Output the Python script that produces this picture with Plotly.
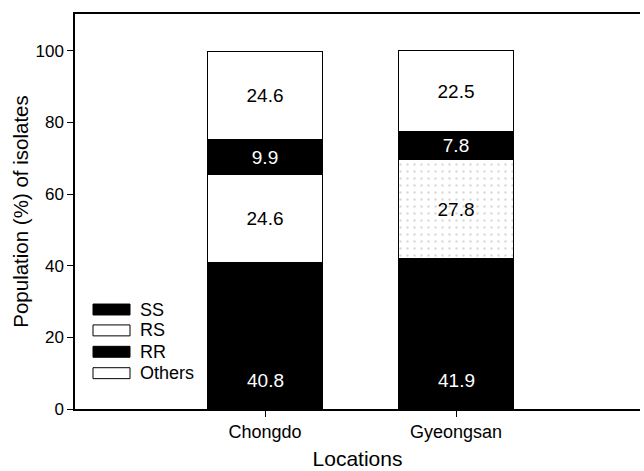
import plotly.graph_objects as go

# Genotype composition (%) of isolates per location
locations = ["Chongdo", "Gyeongsan"]
ss = [40.8, 41.9]
rs = [24.6, 27.8]
rr = [9.9, 7.8]
others = [24.6, 22.5]
y_ticks = [0, 20, 40, 60, 80, 100]

FONT = "Liberation Sans, Arial, Helvetica, sans-serif"
W, H = 644, 471
L, T, R, B = 75, 14, 640, 411  # plot area in pixels
LABEL_SIZE = 19


def px_x(p):
    return (p - L) / (R - L)


def px_y(p):
    return (B - p) / (B - T)


fig = go.Figure()

# SS segment: its value is written near the base of the bar (see annotations below)
fig.add_trace(go.Bar(
    x=locations, y=ss, name="SS",
    marker=dict(color="black", line=dict(color="black", width=1)),
))
fig.add_trace(go.Bar(
    x=locations, y=rs, name="RS",
    marker=dict(color="white", line=dict(color="black", width=1),
                pattern=dict(shape=["", "."], fgcolor="#b4b4b4", bgcolor="white",
                             size=7, solidity=0.1, fillmode="overlay")),
    text=[f"{v:.1f}" for v in rs], textposition="inside",
    insidetextanchor="middle",
    textfont=dict(color="black", size=LABEL_SIZE, family=FONT),
))
fig.add_trace(go.Bar(
    x=locations, y=rr, name="RR",
    marker=dict(color="black", line=dict(color="black", width=1)),
    text=[f"{v:.1f}" for v in rr], textposition="inside",
    insidetextanchor="middle",
    textfont=dict(color="white", size=LABEL_SIZE, family=FONT),
))
fig.add_trace(go.Bar(
    x=locations, y=others, name="Others",
    marker=dict(color="white", line=dict(color="black", width=1)),
    text=[f"{v:.1f}" for v in others], textposition="inside",
    insidetextanchor="middle",
    textfont=dict(color="black", size=LABEL_SIZE, family=FONT),
))

annotations = []
for loc, v in zip(locations, ss):
    annotations.append(dict(x=loc, y=0, xref="x", yref="y", text=f"{v:.1f}",
                            showarrow=False, yanchor="middle", yshift=29,
                            font=dict(size=LABEL_SIZE, family=FONT, color="white")))

# Legend drawn as wide swatches inside the lower-left corner of the plot
legend_items = [("SS", "black", 311), ("RS", "white", 332),
                ("RR", "black", 353.5), ("Others", "white", 375)]
shapes = []
for label, color, cy in legend_items:
    shapes.append(dict(type="rect", xref="paper", yref="paper",
                       x0=px_x(93), x1=px_x(130), y0=px_y(cy + 5.5), y1=px_y(cy - 5.5),
                       fillcolor=color, line=dict(color="black", width=1)))
    annotations.append(dict(x=px_x(138), y=px_y(cy), xref="paper", yref="paper",
                            text=label, showarrow=False, xanchor="left", yanchor="middle",
                            font=dict(size=18, family=FONT, color="black")))

fig.update_layout(
    width=W, height=H,
    margin=dict(l=L, r=W - R, t=T, b=H - B),
    barmode="stack", bargap=0.4,
    plot_bgcolor="white", paper_bgcolor="white",
    showlegend=False,
    uniformtext=dict(mode="show", minsize=10),
    font=dict(family=FONT, color="black"),
    shapes=shapes, annotations=annotations,
    xaxis=dict(
        range=[-(265 - L) / 191, (R - 265) / 191],
        showline=True, linecolor="black", linewidth=1.5, mirror=True,
        ticks="outside", ticklen=6, tickcolor="black",
        tickfont=dict(size=18, family=FONT),
        showgrid=False,
        title=dict(text="Locations", font=dict(size=21, family=FONT), standoff=10),
    ),
    yaxis=dict(
        range=[0, 110.3],
        tickvals=y_ticks,
        showline=True, linecolor="black", linewidth=1.5,
        ticks="outside", ticklen=6, tickcolor="black",
        tickfont=dict(size=17, family=FONT),
        showgrid=False, zeroline=False,
        title=dict(text="Population (%) of isolates", font=dict(size=20.5, family=FONT), standoff=1),
    ),
)

fig.write_html("out.html")
